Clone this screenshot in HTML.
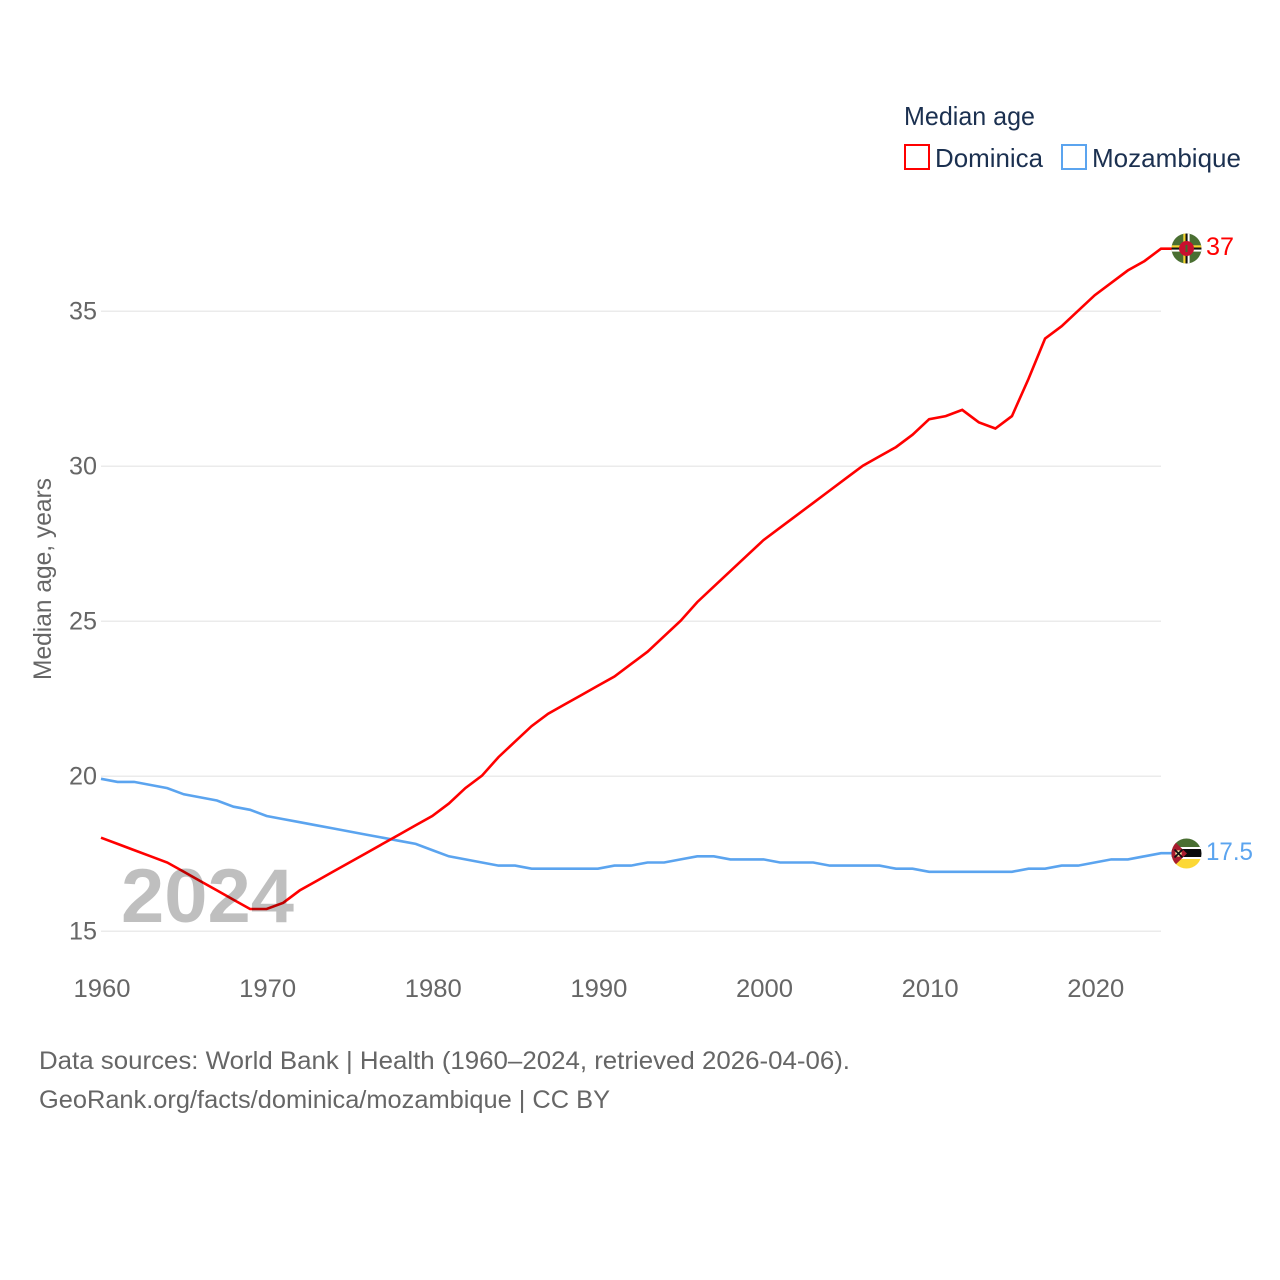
<!DOCTYPE html>
<html lang="en">
<head>
<meta charset="utf-8">
<title>Median age: Dominica and Mozambique</title>
<style>
html,body{margin:0;padding:0;background:#fff;}
svg{display:block;}
text{font-family:"Liberation Sans",sans-serif;}
</style>
</head>
<body>
<svg id="chart" xmlns="http://www.w3.org/2000/svg" width="1280" height="1280" viewBox="0 0 1280 1280">
  <rect width="1280" height="1280" fill="#ffffff"/>
  <g id="grid"></g>
  <g id="yticks"></g>
  <g id="xticks"></g>
  <text transform="translate(51,680) rotate(-90)" font-size="25" fill="#666666" textLength="202" lengthAdjust="spacingAndGlyphs">Median age, years</text>
  <g id="series"></g>
  <text x="121" y="922" font-size="76" font-weight="700" fill="#000000" fill-opacity="0.25" textLength="173" lengthAdjust="spacingAndGlyphs">2024</text>

  <defs>
    <clipPath id="clip-dm"><circle cx="1186.5" cy="248.5" r="15"/></clipPath>
    <clipPath id="clip-mz"><circle cx="1186.5" cy="853.5" r="15"/></clipPath>
  </defs>
  <g clip-path="url(#clip-dm)">
    <rect x="1171" y="233" width="31" height="31" fill="#4a6f32"/>
    <rect x="1171" y="245.4" width="31" height="6.2" fill="#ffffff"/>
    <rect x="1171" y="245.4" width="31" height="2.1" fill="#f5d42a"/>
    <rect x="1171" y="247.5" width="31" height="2.1" fill="#111111"/>
    <rect x="1183.4" y="233" width="6.2" height="31" fill="#ffffff"/>
    <rect x="1183.4" y="233" width="2.1" height="31" fill="#f5d42a"/>
    <rect x="1185.5" y="233" width="2.1" height="31" fill="#111111"/>
    <circle cx="1186.5" cy="248.5" r="7.5" fill="#c8102e"/>
    <rect x="1185.5" y="245" width="2" height="7" fill="#3f6b2e"/>
  </g>
  <g clip-path="url(#clip-mz)">
    <rect x="1171" y="838" width="31" height="10" fill="#4a6f32"/>
    <rect x="1171" y="847" width="31" height="12" fill="#ffffff"/>
    <rect x="1171" y="849" width="31" height="8" fill="#0a0a0a"/>
    <rect x="1171" y="859" width="31" height="10" fill="#fcd835"/>
    <polygon points="1171,838 1187,853.5 1171,869" fill="#a81c2e"/>
    <circle cx="1178.5" cy="853.5" r="3.2" fill="#f4e6a0"/>
    <path d="M1174.5 849.5 L1182.5 857.5 M1182.5 849.5 L1174.5 857.5" stroke="#111111" stroke-width="1.7"/>
  </g>

  <text id="label-dominica" x="1206" y="255" font-size="25" fill="#ff0000" textLength="28" lengthAdjust="spacingAndGlyphs">37</text>
  <text id="label-mozambique" x="1206" y="860" font-size="25" fill="#5ba4ef" textLength="47" lengthAdjust="spacingAndGlyphs">17.5</text>

  <g>
    <text x="904" y="125" font-size="26" fill="#1b3050" textLength="131" lengthAdjust="spacingAndGlyphs">Median age</text>
    <g>
      <rect x="905" y="145" width="24" height="24" fill="#ffffff" stroke="#ff0000" stroke-width="2"/>
      <text x="935" y="167" font-size="26" fill="#1b3050" textLength="108" lengthAdjust="spacingAndGlyphs">Dominica</text>
    </g>
    <g>
      <rect x="1062" y="145" width="24" height="24" fill="#ffffff" stroke="#5ba4ef" stroke-width="2"/>
      <text x="1092" y="167" font-size="26" fill="#1b3050" textLength="149" lengthAdjust="spacingAndGlyphs">Mozambique</text>
    </g>
  </g>

  <text x="39" y="1069" font-size="25" fill="#666666" textLength="811" lengthAdjust="spacingAndGlyphs">Data sources: World Bank | Health (1960–2024, retrieved 2026-04-06).</text>
  <text x="39" y="1108" font-size="25" fill="#666666" textLength="571" lengthAdjust="spacingAndGlyphs">GeoRank.org/facts/dominica/mozambique | CC BY</text>
</svg>

<script>
const startYear = 1960;
const yTickValues = [15, 20, 25, 30, 35];
const xTickValues = [1960, 1970, 1980, 1990, 2000, 2010, 2020];
const dominicaValues = [18.0, 17.8, 17.6, 17.4, 17.2, 16.9, 16.6, 16.3, 16.0, 15.7,
  15.7, 15.9, 16.3, 16.6, 16.9, 17.2, 17.5, 17.8, 18.1, 18.4,
  18.7, 19.1, 19.6, 20.0, 20.6, 21.1, 21.6, 22.0, 22.3, 22.6,
  22.9, 23.2, 23.6, 24.0, 24.5, 25.0, 25.6, 26.1, 26.6, 27.1,
  27.6, 28.0, 28.4, 28.8, 29.2, 29.6, 30.0, 30.3, 30.6, 31.0,
  31.5, 31.6, 31.8, 31.4, 31.2, 31.6, 32.8, 34.1, 34.5, 35.0,
  35.5, 35.9, 36.3, 36.6, 37.0];
const mozambiqueValues = [19.9, 19.8, 19.8, 19.7, 19.6, 19.4, 19.3, 19.2, 19.0, 18.9,
  18.7, 18.6, 18.5, 18.4, 18.3, 18.2, 18.1, 18.0, 17.9, 17.8,
  17.6, 17.4, 17.3, 17.2, 17.1, 17.1, 17.0, 17.0, 17.0, 17.0,
  17.0, 17.1, 17.1, 17.2, 17.2, 17.3, 17.4, 17.4, 17.3, 17.3,
  17.3, 17.2, 17.2, 17.2, 17.1, 17.1, 17.1, 17.1, 17.0, 17.0,
  16.9, 16.9, 16.9, 16.9, 16.9, 16.9, 17.0, 17.0, 17.1, 17.1,
  17.2, 17.3, 17.3, 17.4, 17.5];

const NS = 'http://www.w3.org/2000/svg';
function xScale(year) { return 101 + (year - 1960) * (1161 - 101) / 64; }
function yScale(v) { return 930.7 - (v - 15) * 31; }
function make(tag, parent) {
  const el = document.createElementNS(NS, tag);
  parent.appendChild(el);
  return el;
}

const gridGroup = document.getElementById('grid');
const yGroup = document.getElementById('yticks');
const xGroup = document.getElementById('xticks');
const seriesGroup = document.getElementById('series');

yTickValues.forEach(function (v) {
  const line = make('line', gridGroup);
  
  
  line.setAttribute('x1', 101);
  line.setAttribute('x2', 1161);
  line.setAttribute('y1', yScale(v) + 0.6);
  line.setAttribute('y2', yScale(v) + 0.6);
  line.setAttribute('stroke', '#ebebeb');
  line.setAttribute('stroke-width', 1.5);

  const label = make('text', yGroup);
  
  
  label.setAttribute('x', 97);
  label.setAttribute('y', yScale(v) + 8.8);
  label.setAttribute('text-anchor', 'end');
  label.setAttribute('font-size', 25);
  label.setAttribute('fill', '#666666');
  label.setAttribute('textLength', 28);
  label.setAttribute('lengthAdjust', 'spacingAndGlyphs');
  label.textContent = String(v);
});

xTickValues.forEach(function (year) {
  const label = make('text', xGroup);
  
  
  label.setAttribute('x', xScale(year) + 1);
  label.setAttribute('y', 997);
  label.setAttribute('text-anchor', 'middle');
  label.setAttribute('font-size', 25);
  label.setAttribute('fill', '#666666');
  label.setAttribute('textLength', 57);
  label.setAttribute('lengthAdjust', 'spacingAndGlyphs');
  label.textContent = String(year);
});

function buildPoints(values) {
  const pts = values.map(function (v, i) {
    return xScale(startYear + i).toFixed(2) + ',' + yScale(v).toFixed(2);
  });
  pts.push('1172,' + yScale(values[values.length - 1]).toFixed(2));
  return pts.join(' ');
}

const mozambiqueLine = make('polyline', seriesGroup);


mozambiqueLine.setAttribute('points', buildPoints(mozambiqueValues));
mozambiqueLine.setAttribute('fill', 'none');
mozambiqueLine.setAttribute('stroke', '#5ba4ef');
mozambiqueLine.setAttribute('stroke-width', 2.6);

const dominicaLine = make('polyline', seriesGroup);


dominicaLine.setAttribute('points', buildPoints(dominicaValues));
dominicaLine.setAttribute('fill', 'none');
dominicaLine.setAttribute('stroke', '#ff0000');
dominicaLine.setAttribute('stroke-width', 2.6);

const lastDominica = dominicaValues[dominicaValues.length - 1];
const lastMozambique = mozambiqueValues[mozambiqueValues.length - 1];
document.getElementById('label-dominica').textContent = String(lastDominica);
document.getElementById('label-mozambique').textContent = String(lastMozambique);
</script>
</body>
</html>
